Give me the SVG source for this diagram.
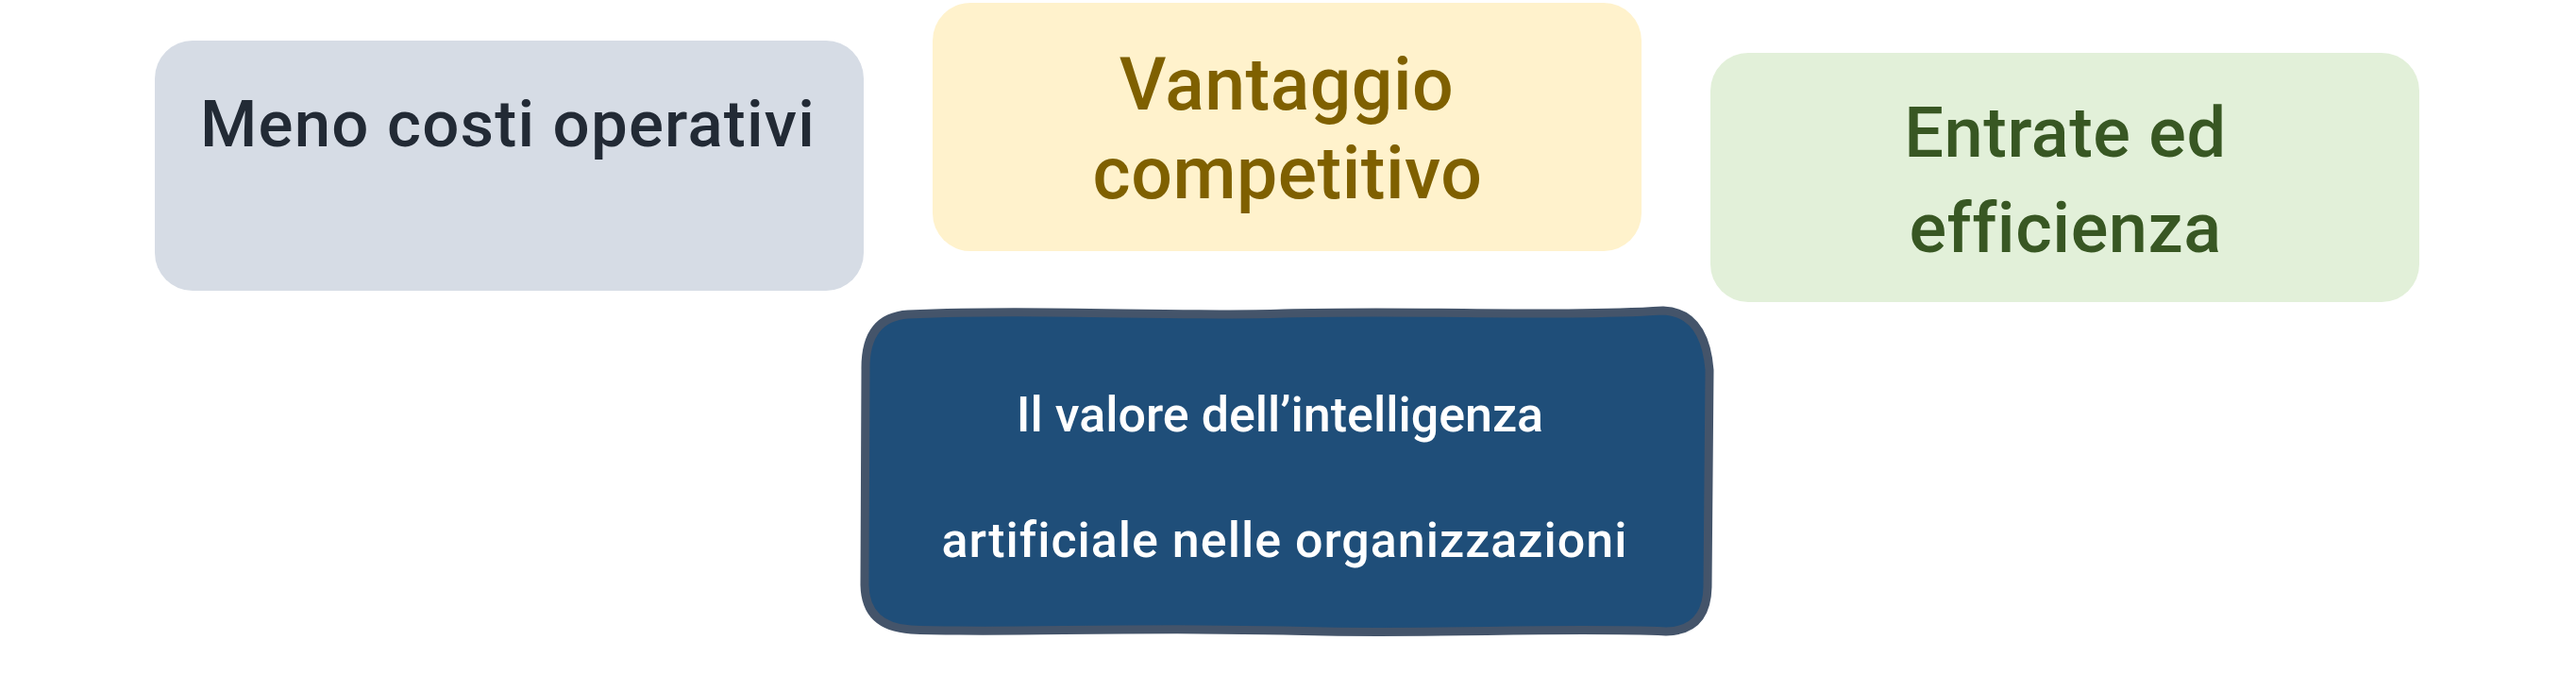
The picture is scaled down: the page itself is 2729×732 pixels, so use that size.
<svg xmlns="http://www.w3.org/2000/svg" width="2729" height="732" viewBox="0 0 2729 732">
<style>
.t{font-family:Roboto,"Noto Sans","Liberation Sans",sans-serif;text-anchor:middle}
.top{font-weight:500;letter-spacing:0.5px}
.c1{font-size:69px;letter-spacing:1.2px}
.c2{font-size:77px}
.c3{font-size:74px}
.mid{font-size:52px;font-weight:500;fill:#ffffff}
</style>
<rect width="2729" height="732" fill="#ffffff"/>
<g id="connectors"></g>
<g id="node-costi">
<rect x="164" y="43" width="751" height="265" rx="40" ry="40" fill="#D6DCE5"/>
<text class="t top c1" x="538" y="155" fill="#222A35">Meno costi operativi</text>
</g>
<g id="node-vantaggio">
<rect x="988" y="3" width="751" height="263" rx="40" ry="40" fill="#FFF2CC"/>
<text class="t top c2" x="1363" y="116" fill="#7F6000">Vantaggio</text>
<text class="t top c2" x="1364" y="210" fill="#7F6000">competitivo</text>
</g>
<g id="node-entrate">
<rect x="1812" y="56" width="751" height="264" rx="40" ry="40" fill="#E2F0D9"/>
<text class="t top c3" x="2188" y="166" fill="#385723">Entrate ed</text>
<text class="t top c3" x="2188" y="267" fill="#385723">efficienza</text>
</g>
<g id="node-valore">
<path d="M 962,333 C 1100,327 1250,336 1360,332 C 1500,328 1650,336 1762,329 Q 1806,331 1811,392 L 1809,622 Q 1808,668 1765,669 C 1650,664 1500,673 1360,668 C 1200,664 1050,671 965,667 Q 917,664 916,620 L 917,392 Q 916,336 962,333 Z" fill="#1F4E79" stroke="#44546A" stroke-width="9" stroke-linejoin="round"/>
<text class="t mid" x="1356" y="457">Il valore dell’intelligenza</text>
<text class="t mid" x="1361" y="590" letter-spacing="1px">artificiale nelle organizzazioni</text>
</g>
</svg>
